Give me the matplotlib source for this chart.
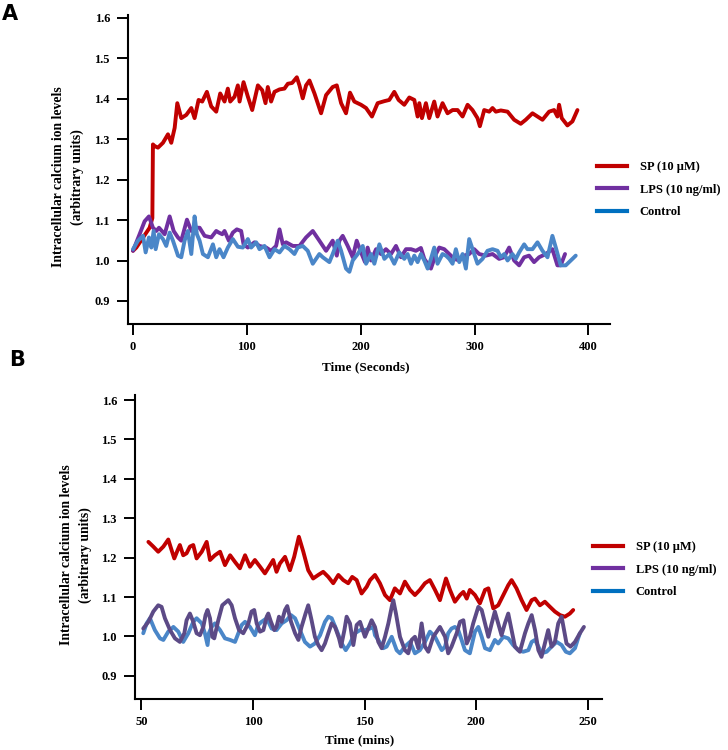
import matplotlib
matplotlib.use("Agg")
import matplotlib.pyplot as plt
from matplotlib.lines import Line2D

# ---------------- Panel A data (time in seconds) ----------------
a_sp_t = [0, 2.9, 14.6, 17.0, 17.5, 19.0, 21.9, 26.3, 30.7, 33.6, 36.6, 38.9, 42.4, 46.8, 51.2, 54.1, 57.6,
          60.8, 64.9, 68.7, 73.1, 76.6, 80.4, 83.3, 85.4, 89.2, 92.1, 93.6, 97.1, 100.9, 104.7, 109.7, 113.5,
          116.4, 118.4, 121.3, 124.3, 128.7, 133.0, 136.0, 139.8, 143.9, 146.2, 149.1, 152.0, 155.0, 159.4,
          165.2, 169.6, 175.4, 179.0, 182.8, 187.1, 190.6, 194.4, 200.3, 204.7, 209.9, 214.9, 220.8, 225.1,
          229.5, 233.3, 238.3, 242.7, 247.1, 250.0, 251.5, 253.8, 257.3, 260.2, 264.6, 267.5, 271.9, 276.3,
          280.7, 285.1, 289.5, 293.9, 298.2, 302.6, 304.7, 308.5, 312.9, 315.8, 318.7, 323.1, 329.0, 334.8,
          340.6, 345.0, 350.9, 355.3, 359.7, 365.5, 369.9, 372.8, 374.3, 376.6, 381.6, 386.0, 390.4]
a_sp_v = [1.024, 1.032, 1.081, 1.105, 1.287, 1.283, 1.279, 1.291, 1.312, 1.291, 1.328, 1.389, 1.352, 1.360,
          1.377, 1.352, 1.397, 1.393, 1.417, 1.381, 1.368, 1.413, 1.393, 1.425, 1.393, 1.405, 1.433, 1.393,
          1.441, 1.405, 1.372, 1.433, 1.421, 1.389, 1.429, 1.393, 1.417, 1.423, 1.425, 1.437, 1.439, 1.453,
          1.433, 1.401, 1.433, 1.445, 1.413, 1.364, 1.409, 1.429, 1.433, 1.389, 1.364, 1.415, 1.393, 1.385,
          1.377, 1.356, 1.389, 1.394, 1.397, 1.417, 1.397, 1.385, 1.403, 1.397, 1.356, 1.389, 1.352, 1.389,
          1.352, 1.393, 1.356, 1.389, 1.364, 1.372, 1.372, 1.356, 1.385, 1.372, 1.352, 1.332, 1.372, 1.368,
          1.377, 1.368, 1.371, 1.368, 1.348, 1.338, 1.348, 1.364, 1.356, 1.348, 1.368, 1.372, 1.356, 1.385,
          1.352, 1.334, 1.344, 1.372]

a_lps_t = [0, 5.8, 10.2, 14.0, 17.5, 20.5, 22.8, 27.8, 32.2, 35.7, 39.5, 42.4, 47.4, 51.2, 55.6, 58.5, 62.9,
           68.7, 73.1, 75.4, 78.4, 80.4, 84.2, 87.7, 91.2, 95.0, 97.1, 100.9, 106.7, 111.1, 117.0, 121.3,
           125.7, 128.7, 131.6, 134.5, 140.4, 146.2, 152.0, 157.9, 163.7, 169.6, 175.4, 179.0, 181.3, 184.2,
           188.6, 193.0, 196.5, 200.3, 203.8, 206.1, 209.1, 213.5, 217.8, 222.2, 226.6, 231.0, 235.4, 239.8,
           244.2, 248.5, 252.9, 255.9, 258.8, 261.7, 266.1, 269.0, 273.4, 277.8, 282.2, 286.6, 290.9, 295.3,
           299.7, 304.1, 309.9, 315.8, 321.6, 325.9, 330.4, 334.8, 339.2, 343.6, 347.9, 352.3, 356.7, 362.6,
           368.4, 372.8, 375.7, 379.5]
a_lps_v = [1.024, 1.065, 1.097, 1.109, 1.081, 1.073, 1.081, 1.065, 1.109, 1.073, 1.057, 1.049, 1.101, 1.073,
           1.081, 1.081, 1.061, 1.057, 1.073, 1.069, 1.065, 1.073, 1.049, 1.069, 1.077, 1.073, 1.040, 1.032,
           1.045, 1.036, 1.032, 1.024, 1.036, 1.077, 1.040, 1.045, 1.036, 1.036, 1.057, 1.073, 1.049, 1.024,
           1.049, 1.012, 1.049, 1.061, 1.036, 1.008, 1.049, 1.020, 0.996, 1.032, 1.000, 1.028, 1.016, 1.028,
           1.016, 1.036, 1.008, 1.028, 1.028, 1.024, 1.031, 1.004, 0.992, 0.980, 1.016, 1.032, 1.028, 1.016,
           1.004, 1.000, 1.012, 1.016, 1.028, 1.016, 1.012, 1.016, 1.004, 1.008, 1.032, 1.000, 0.988, 1.008,
           1.012, 0.996, 1.008, 1.016, 1.028, 0.988, 0.988, 1.016]

a_ctl_t = [0, 4.4, 8.8, 11.1, 14.0, 16.1, 18.1, 19.9, 22.8, 26.3, 29.2, 32.2, 35.1, 39.5, 42.4, 45.3, 48.2,
           51.2, 54.1, 56.1, 58.5, 61.4, 65.8, 70.2, 73.1, 76.0, 79.5, 83.3, 87.7, 92.1, 96.5, 100.9, 103.8,
           108.2, 111.1, 115.5, 119.9, 124.3, 128.7, 133.0, 137.4, 141.8, 144.7, 149.1, 153.5, 157.9, 163.7,
           166.7, 172.5, 175.4, 179.8, 182.8, 187.1, 190.1, 193.0, 197.4, 201.8, 204.7, 209.1, 212.0, 216.4,
           220.8, 225.1, 229.5, 233.9, 238.3, 241.2, 244.2, 247.1, 250.0, 252.9, 255.9, 258.8, 261.7, 264.6,
           267.5, 271.9, 274.9, 277.8, 280.7, 283.6, 286.6, 289.5, 292.4, 295.3, 299.7, 302.6, 307.0, 311.4,
           315.8, 320.2, 323.1, 326.1, 329.0, 333.3, 336.3, 339.2, 343.6, 346.5, 350.9, 355.3, 359.7, 364.1,
           368.4, 371.4, 375.7, 380.1, 386.0, 388.9]
a_ctl_v = [1.028, 1.049, 1.061, 1.020, 1.057, 1.032, 1.073, 1.028, 1.065, 1.053, 1.036, 1.069, 1.049, 1.012,
           1.008, 1.049, 1.073, 1.016, 1.109, 1.065, 1.049, 1.016, 1.008, 1.040, 1.008, 1.028, 1.008, 1.032,
           1.053, 1.034, 1.032, 1.053, 1.032, 1.045, 1.028, 1.036, 1.008, 1.028, 1.020, 1.036, 1.028, 1.016,
           1.032, 1.036, 1.024, 0.992, 1.016, 1.008, 0.996, 1.016, 1.049, 1.024, 0.980, 0.972, 1.000, 1.016,
           1.036, 0.992, 1.016, 0.992, 1.040, 1.004, 1.016, 0.992, 1.020, 1.004, 1.016, 0.992, 1.012, 0.996,
           1.016, 1.000, 0.980, 1.004, 1.032, 0.992, 1.016, 1.012, 1.004, 0.992, 1.028, 0.996, 1.016, 0.980,
           1.053, 1.016, 0.992, 1.004, 1.024, 1.028, 1.024, 1.008, 1.016, 1.000, 1.016, 1.004, 1.020, 1.040,
           1.028, 1.028, 1.045, 1.024, 1.008, 1.061, 1.032, 0.988, 0.988, 1.004, 1.012]

# ---------------- Panel B data (time in minutes) ----------------
b_sp_t = [53.1, 55.3, 57.5, 59.8, 62.0, 63.5, 64.7, 66.2, 67.2, 68.7, 70.2, 71.7, 73.2, 74.7, 77.0, 79.2,
          80.7, 82.9, 85.2, 87.4, 89.7, 91.9, 94.1, 96.4, 98.6, 100.8, 103.1, 105.3, 107.6, 109.0, 110.5,
          112.0, 114.3, 116.5, 118.4, 120.5, 122.5, 124.7, 126.9, 129.2, 131.4, 133.7, 135.9, 138.2, 140.4,
          142.6, 144.4, 146.4, 148.6, 150.9, 152.4, 154.6, 156.8, 159.1, 161.3, 163.5, 165.8, 168.0, 170.3,
          172.5, 174.7, 177.0, 179.2, 181.5, 183.7, 186.4, 188.2, 190.4, 192.7, 194.2, 195.7, 197.1, 199.4,
          201.6, 203.9, 205.4, 207.6, 209.8, 212.1, 214.3, 215.8, 218.0, 220.3, 222.5, 224.8, 226.3, 228.5,
          230.7, 233.0, 235.2, 237.5, 239.7, 241.9, 243.4]
b_sp_v = [1.240, 1.228, 1.215, 1.228, 1.246, 1.219, 1.198, 1.219, 1.232, 1.206, 1.211, 1.228, 1.232, 1.198,
          1.215, 1.240, 1.194, 1.206, 1.215, 1.181, 1.206, 1.189, 1.173, 1.206, 1.177, 1.194, 1.177, 1.160,
          1.181, 1.194, 1.164, 1.185, 1.202, 1.168, 1.202, 1.253, 1.215, 1.168, 1.147, 1.156, 1.164, 1.151,
          1.135, 1.156, 1.143, 1.135, 1.151, 1.143, 1.109, 1.126, 1.143, 1.156, 1.135, 1.105, 1.092, 1.122,
          1.109, 1.139, 1.118, 1.105, 1.118, 1.135, 1.143, 1.118, 1.092, 1.147, 1.118, 1.088, 1.105, 1.113,
          1.096, 1.118, 1.105, 1.084, 1.118, 1.122, 1.071, 1.079, 1.105, 1.130, 1.143, 1.122, 1.092, 1.067,
          1.092, 1.096, 1.079, 1.088, 1.075, 1.063, 1.054, 1.050, 1.058, 1.067]

b_lps_t = [50.8, 53.1, 55.3, 57.5, 59.0, 60.5, 62.8, 65.0, 67.2, 69.2, 70.2, 71.7, 73.2, 74.7, 76.2, 77.7,
           78.7, 79.6, 80.7, 81.7, 82.6, 84.4, 86.2, 88.9, 90.4, 91.9, 93.7, 95.6, 97.9, 99.3, 100.5, 101.6,
           103.1, 104.6, 106.1, 106.8, 108.0, 109.5, 110.5, 111.6, 112.8, 114.3, 115.3, 117.0, 118.8, 120.3,
           121.7, 123.5, 124.7, 126.2, 127.7, 129.2, 130.7, 132.2, 133.7, 135.2, 136.7, 138.5, 139.4, 140.9,
           141.9, 143.4, 144.9, 146.4, 147.9, 150.1, 153.1, 154.6, 156.1, 157.6, 159.1, 160.6, 162.1, 162.8,
           164.0, 165.8, 168.0, 169.5, 171.0, 172.5, 174.0, 175.5, 177.0, 178.5, 180.7, 183.7, 186.0, 187.4,
           188.9, 191.2, 192.7, 194.2, 195.7, 197.1, 198.6, 200.9, 202.4, 203.9, 205.4, 206.9, 208.3, 209.8,
           211.3, 212.8, 214.3, 215.8, 217.3, 219.5, 221.8, 223.3, 224.8, 226.3, 227.8, 229.2, 230.7, 232.2,
           233.7, 235.2, 236.7, 238.2, 239.3, 240.4, 242.2, 244.2, 246.4, 248.2]
b_lps_v = [1.020, 1.037, 1.063, 1.079, 1.075, 1.046, 1.016, 0.995, 0.986, 1.008, 1.041, 1.058, 1.037, 1.008,
           1.003, 1.024, 1.054, 1.067, 1.046, 0.999, 0.995, 1.041, 1.079, 1.092, 1.079, 1.046, 1.016, 1.008,
           1.033, 1.063, 1.067, 1.033, 1.012, 1.016, 1.050, 1.058, 1.037, 1.016, 1.024, 1.050, 1.037, 1.067,
           1.077, 1.037, 1.008, 0.991, 1.024, 1.058, 1.079, 1.041, 0.999, 0.978, 0.965, 0.982, 1.008, 1.033,
           1.024, 0.995, 0.974, 1.016, 1.050, 1.033, 0.978, 1.029, 1.037, 0.999, 1.041, 1.024, 0.986, 0.970,
           0.999, 1.033, 1.075, 1.092, 1.058, 0.999, 0.965, 0.957, 0.991, 0.999, 0.970, 1.033, 0.974, 0.961,
           0.999, 1.024, 0.999, 0.957, 0.974, 1.008, 1.037, 1.041, 0.982, 0.999, 1.033, 1.075, 1.067, 1.033,
           0.999, 1.033, 1.063, 1.033, 1.003, 1.033, 1.058, 1.016, 0.974, 0.961, 1.008, 1.033, 1.054, 1.016,
           0.965, 0.948, 0.982, 1.016, 0.974, 0.986, 1.033, 1.050, 1.016, 0.982, 0.974, 0.986, 1.008, 1.024]

b_ctl_t = [50.8, 52.3, 53.8, 56.0, 58.3, 59.8, 62.0, 64.3, 66.5, 68.7, 71.0, 73.2, 74.7, 77.0, 78.4, 79.6,
           80.2, 81.4, 82.9, 85.2, 87.4, 89.7, 91.9, 93.4, 94.9, 96.4, 98.6, 100.8, 102.3, 103.8, 106.1,
           108.3, 110.5, 112.8, 115.0, 117.0, 118.8, 121.0, 123.2, 125.5, 127.7, 130.0, 132.2, 133.7, 135.2,
           137.4, 139.7, 141.5, 143.4, 145.6, 147.9, 150.1, 152.4, 153.9, 154.6, 156.1, 158.3, 159.8, 162.1,
           164.3, 165.8, 168.0, 170.3, 172.5, 174.7, 177.0, 179.2, 181.5, 183.0, 184.5, 186.0, 187.4, 188.9,
           190.4, 191.9, 193.4, 194.9, 197.1, 199.4, 200.9, 202.4, 203.9, 206.1, 208.3, 209.8, 212.1, 214.3,
           216.5, 218.8, 221.0, 223.3, 224.8, 226.3, 227.8, 229.2, 231.5, 233.7, 236.0, 238.2, 240.1, 241.9,
           244.2, 245.6, 246.4]
b_ctl_v = [1.008, 1.033, 1.046, 1.016, 0.995, 0.991, 1.012, 1.024, 1.012, 0.986, 1.008, 1.037, 1.046, 1.033,
           1.008, 0.978, 1.008, 1.024, 1.033, 1.016, 0.995, 0.991, 0.986, 1.008, 1.029, 1.037, 1.024, 1.003,
           1.029, 1.037, 1.046, 1.020, 1.016, 1.033, 1.041, 1.054, 1.046, 1.016, 0.986, 0.974, 0.982, 1.003,
           1.037, 1.050, 1.046, 1.016, 0.982, 0.965, 0.982, 1.008, 1.016, 1.016, 1.020, 1.024, 1.003, 0.991,
           0.970, 0.974, 0.999, 0.965, 0.957, 0.974, 0.986, 0.957, 0.965, 0.986, 1.012, 0.999, 0.982, 0.965,
           0.974, 1.008, 1.020, 1.024, 1.016, 0.991, 0.965, 0.957, 1.012, 1.024, 0.999, 0.970, 0.965, 0.991,
           0.982, 0.999, 0.995, 0.978, 0.965, 0.961, 0.965, 0.986, 0.991, 0.974, 0.957, 0.961, 0.974, 0.986,
           0.978, 0.961, 0.957, 0.970, 0.995, 1.008]

legend_labels = ["SP (10 \u03bcM)", "LPS (10 ng/ml)", "Control"]
y_ticks = [0.9, 1.0, 1.1, 1.2, 1.3, 1.4, 1.5, 1.6]
a_x_ticks = [0, 100, 200, 300, 400]
b_x_ticks = [50, 100, 150, 200, 250]

# ---------------- styling ----------------
RED = "#C00000"
PURPLE = "#7030A0"
PURPLE_B = "#5C4A86"
BLUE = "#4A86C8"
LEG_BLUE = "#0070C0"
SERIF = ["Liberation Serif", "DejaVu Serif"]

plt.rcParams["font.family"] = SERIF
plt.rcParams["font.weight"] = "bold"

W, H = 728, 750
fig = plt.figure(figsize=(W / 100, H / 100), dpi=100)
fig.patch.set_facecolor("white")


def px_axes(left, right, top, bottom):
    return fig.add_axes([left / W, 1 - bottom / H, (right - left) / W, (bottom - top) / H])


def style(ax, xticks):
    for s in ("top", "right"):
        ax.spines[s].set_visible(False)
    for s in ("left", "bottom"):
        ax.spines[s].set_linewidth(1.5)
    ax.set_yticks(y_ticks)
    ax.set_yticklabels([f"{v:.1f}" for v in y_ticks])
    ax.set_xticks(xticks)
    ax.tick_params(axis="both", direction="out", length=8, width=1.4, labelsize=9)
    ax.tick_params(axis="y", pad=5)
    ax.tick_params(axis="x", pad=4)
    for lab in ax.get_xticklabels() + ax.get_yticklabels():
        lab.set_fontweight("bold")
        lab.set_family(SERIF)


LW = 2.8
legend_handles = [Line2D([], [], color=RED, lw=3.0),
                  Line2D([], [], color=PURPLE, lw=3.0),
                  Line2D([], [], color=LEG_BLUE, lw=3.0)]

# ---------------- Panel A ----------------
axA = px_axes(128, 610, 15, 324)
axA.plot(a_sp_t, a_sp_v, color=RED, lw=LW, solid_joinstyle="round", solid_capstyle="round")
axA.plot(a_lps_t, a_lps_v, color=PURPLE, lw=LW, solid_joinstyle="round", solid_capstyle="round")
axA.plot(a_ctl_t, a_ctl_v, color=BLUE, lw=LW, solid_joinstyle="round", solid_capstyle="round")
axA.set_xlim(-4.4, 419)
axA.set_ylim(0.843, 1.607)
style(axA, a_x_ticks)

# ---------------- Panel B ----------------
axB = px_axes(135, 602, 395, 699)
axB.plot(b_sp_t, b_sp_v, color=RED, lw=LW, solid_joinstyle="round", solid_capstyle="round")
axB.plot(b_ctl_t, b_ctl_v, color=BLUE, lw=LW, solid_joinstyle="round", solid_capstyle="round")
axB.plot(b_lps_t, b_lps_v, color=PURPLE_B, lw=LW, solid_joinstyle="round", solid_capstyle="round")
axB.set_xlim(47.1, 256.3)
axB.set_ylim(0.841, 1.613)
style(axB, b_x_ticks)

# ---------------- labels ----------------
ylab = "Intracellular calcium ion levels\n(arbitrary units)"
fig.text(68 / W, 1 - 177 / H, ylab, rotation=90, ha="center", va="center",
         fontsize=9.8, fontweight="bold", family=SERIF, linespacing=1.45)
fig.text(76 / W, 1 - 555 / H, ylab, rotation=90, ha="center", va="center",
         fontsize=9.8, fontweight="bold", family=SERIF, linespacing=1.45)
fig.text(366 / W, 1 - 367 / H, "Time (Seconds)", ha="center", va="center",
         fontsize=9.5, fontweight="bold", family=SERIF)
fig.text(360 / W, 1 - 740 / H, "Time (mins)", ha="center", va="center",
         fontsize=9.5, fontweight="bold", family=SERIF)

fig.text(2 / W, 1 - 4 / H, "A", ha="left", va="top", fontsize=15, fontweight="bold",
         family=["DejaVu Sans"])
fig.text(9 / W, 1 - 350 / H, "B", ha="left", va="top", fontsize=15, fontweight="bold",
         family=["DejaVu Sans"])

for top_px, left_px in ((161, 597), (541, 593)):
    fig.legend(legend_handles, legend_labels, loc="upper left",
               bbox_to_anchor=(left_px / W, 1 - top_px / H), frameon=False,
               prop={"family": SERIF, "weight": "bold", "size": 9},
               handlelength=2.4, handletextpad=1.0, labelspacing=0.85,
               borderpad=0, borderaxespad=0)

fig.savefig("out.png", dpi=100, facecolor="white")
